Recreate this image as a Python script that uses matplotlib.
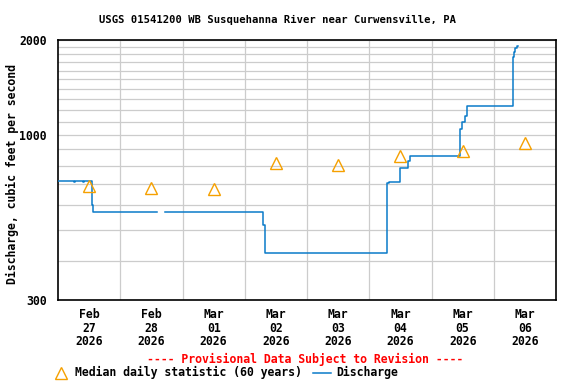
import numpy as np
import matplotlib
matplotlib.use("Agg")
import matplotlib.pyplot as plt
from matplotlib.lines import Line2D
from matplotlib.ticker import FixedLocator, NullFormatter

# discharge, step changes (days since Feb 27 2026 00:00, cfs); nan = data gap
q_days = [0.0, 0.25, 0.27, 0.40, 0.42, 0.540, 0.548, 0.555,
          1.587, 1.72,
          3.290, 3.320,
          5.285, 5.310, 5.487, 5.622, 5.650,
          6.463, 6.490, 6.545, 6.575,
          7.304, 7.320, 7.345, 7.370, 7.385]
q_vals = [715, 709, 715, 709, 715, 640, 600, 569,
          np.nan, 569,
          519, 424,
          703, 709, 784, 830, 860,
          1045, 1102, 1149, 1236,
          1770, 1837, 1883, 1920, 1920]

# median daily statistic at noon of each day
med_days = [0.5, 1.5, 2.5, 3.5, 4.5, 5.5, 6.5, 7.5]
med_vals = [689, 681, 673, 814, 805, 860, 890, 941]

day_labels = ["Feb\n27\n2026", "Feb\n28\n2026", "Mar\n01\n2026", "Mar\n02\n2026",
              "Mar\n03\n2026", "Mar\n04\n2026", "Mar\n05\n2026", "Mar\n06\n2026"]

blue = "#0a7bc9"
orange = "#f5a000"
font = {"family": "DejaVu Sans Mono", "weight": "bold"}

fig = plt.figure(figsize=(5.76, 3.84), dpi=100)
W, H = 576.0, 384.0
ax = fig.add_axes([58 / W, 1 - 300 / H, 498 / W, 260 / H])

ax.plot(q_days, q_vals, color=blue, lw=1.1, drawstyle="steps-post", zorder=3)
ax.plot(med_days, med_vals, ls="none", marker="^", ms=8, mfc="none",
        mec=orange, mew=1.0, zorder=4)

ax.set_yscale("log")
ax.set_ylim(300, 2000)
ax.set_xlim(0, 8)

ax.yaxis.set_major_locator(FixedLocator([300, 1000, 2000]))
ax.yaxis.set_minor_locator(FixedLocator([400, 500, 600, 700, 800, 900, 1100, 1200, 1300,
                                         1400, 1500, 1600, 1700, 1800, 1900]))
ax.yaxis.set_minor_formatter(NullFormatter())
ax.set_yticklabels(["300", "1000", "2000"], fontsize=8.3, **font)

ax.set_xticks(med_days)
ax.set_xticklabels(day_labels, fontsize=8.3, linespacing=1.05, **font)
ax.xaxis.set_minor_locator(FixedLocator(range(1, 8)))

ax.tick_params(which="both", length=0)
ax.tick_params(axis="y", pad=8)
ax.tick_params(axis="x", pad=6)
ax.grid(True, which="both", axis="y", color="#cccccc", lw=0.9)
ax.grid(True, which="minor", axis="x", color="#cccccc", lw=0.9)
ax.grid(False, which="major", axis="x")
ax.set_axisbelow(True)
for s in ax.spines.values():
    s.set_linewidth(1.2)
    s.set_color("black")

fig.text(12 / W, 1 - 173.5 / H, "Discharge, cubic feet per second", rotation=90,
         ha="center", va="center", fontsize=8.3, **font)

fig.text(277.5 / W, 1 - 20 / H, "USGS 01541200 WB Susquehanna River near Curwensville, PA",
         ha="center", va="center", fontsize=7.6, **font)
fig.text(305.5 / W, 1 - 359 / H, "---- Provisional Data Subject to Revision ----",
         ha="center", va="center", fontsize=8.3, color="red", **font)

# legend row
ly = 1 - 372.5 / H
fig.add_artist(Line2D([60.7 / W], [ly], marker="^", ms=8, mfc="none", mec=orange,
                      mew=1.0, ls="none"))
fig.text(75 / W, ly, "Median daily statistic (60 years)", ha="left", va="center",
         fontsize=8.3, **font)
fig.add_artist(Line2D([313 / W, 331 / W], [ly, ly], color=blue, lw=1.1))
fig.text(336.5 / W, ly, "Discharge", ha="left", va="center", fontsize=8.3, **font)

fig.savefig("out.png", dpi=100)
